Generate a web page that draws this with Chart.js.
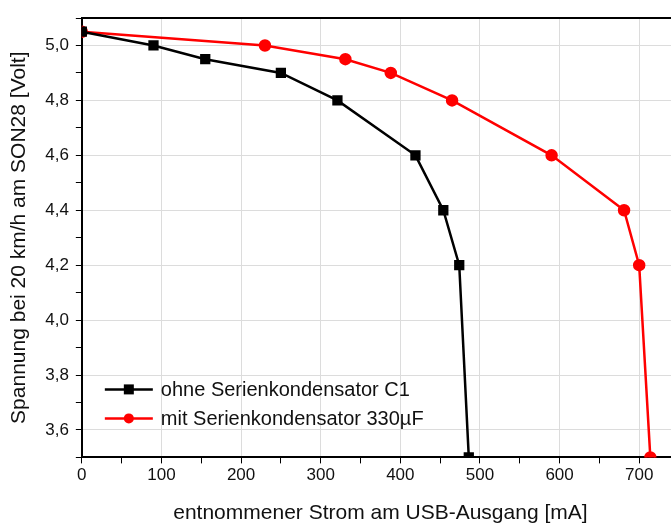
<!DOCTYPE html>
<html>
<head>
<meta charset="utf-8">
<script src="https://cdn.jsdelivr.net/npm/chart.js@4"></script>
<style>
  html, body { margin: 0; padding: 0; background: #fff; overflow: hidden; }
  #wrap { width: 687px; height: 526px; }
</style>
</head>
<body>
<div id="wrap"><canvas id="chart"></canvas></div>
<script>
// Messwerte: Strom in mA, Spannung in Volt
const ohneStrom = [0, 90, 155, 250, 321, 419, 454, 474, 486];
const ohneSpannung = [5.05, 5.0, 4.95, 4.9, 4.8, 4.6, 4.4, 4.2, 3.5];
const mitStrom = [0, 230, 331, 388, 465, 590, 681, 700, 714];
const mitSpannung = [5.05, 5.0, 4.95, 4.9, 4.8, 4.6, 4.4, 4.2, 3.5];
const seriesLabels = ['ohne Serienkondensator C1', 'mit Serienkondensator 330µF'];

const toPoints = (xs, ys) => xs.map((x, i) => ({ x: x, y: ys[i] }));

const FONT = 'Liberation Sans, Arial, sans-serif';

// legend drawn inside the plot, bottom left
const innerLegend = {
  id: 'innerLegend',
  afterDraw(chart) {
    const ctx = chart.ctx;
    const area = chart.chartArea;
    const x0 = area.left + 23;
    let y = area.bottom - 68;
    chart.data.datasets.forEach(ds => {
      ctx.save();
      ctx.strokeStyle = ds.borderColor;
      ctx.lineWidth = 2.5;
      ctx.beginPath();
      ctx.moveTo(x0, y);
      ctx.lineTo(x0 + 48, y);
      ctx.stroke();
      ctx.fillStyle = ds.borderColor;
      if (ds.pointStyle === 'rect') {
        ctx.fillRect(x0 + 19, y - 5, 10, 10);
      } else {
        ctx.beginPath();
        ctx.arc(x0 + 24, y, 5, 0, Math.PI * 2);
        ctx.fill();
      }
      ctx.fillStyle = '#111';
      ctx.font = '20px ' + FONT;
      ctx.textBaseline = 'middle';
      ctx.fillText(ds.label, x0 + 56, y + 1);
      ctx.restore();
      y += 29;
    });
  }
};

new Chart(document.getElementById('chart'), {
  type: 'line',
  data: {
    datasets: [
      {
        label: seriesLabels[0],
        data: toPoints(ohneStrom, ohneSpannung),
        borderColor: '#000000',
        backgroundColor: '#000000',
        borderWidth: 2.5,
        pointStyle: 'rect',
        pointRadius: 5.5,
        pointHoverRadius: 5.5,
        tension: 0
      },
      {
        label: seriesLabels[1],
        data: toPoints(mitStrom, mitSpannung),
        borderColor: '#ff0000',
        backgroundColor: '#ff0000',
        borderWidth: 2.5,
        pointStyle: 'circle',
        pointRadius: 5,
        pointHoverRadius: 5,
        tension: 0
      }
    ]
  },
  options: {
    responsive: true,
    maintainAspectRatio: false,
    animation: false,
    layout: { padding: { top: 10, right: 0, left: 7, bottom: 0 } },
    plugins: {
      legend: { display: false },
      tooltip: { enabled: false }
    },
    scales: {
      x: {
        type: 'linear',
        min: 0,
        max: 750,
        ticks: {
          stepSize: 50,
          color: '#111',
          font: { family: FONT, size: 17 },
          padding: 2,
          maxRotation: 0,
          autoSkip: false,
          callback: v => (v % 100 === 0 ? String(v) : '')
        },
        grid: {
          color: ctx => (ctx.tick && ctx.tick.value % 100 === 0 ? '#dcdcdc' : 'rgba(0,0,0,0)'),
          tickColor: '#000',
          tickLength: 6
        },
        border: { color: '#000', width: 2 },
        title: {
          display: true,
          text: 'entnommener Strom am USB-Ausgang [mA]',
          color: '#111',
          font: { family: FONT, size: 21 },
          padding: { top: 13, bottom: 0 }
        }
      },
      xTop: {
        type: 'linear',
        position: 'top',
        min: 0,
        max: 750,
        ticks: { display: false },
        grid: { display: false },
        border: { color: '#000', width: 2 }
      },
      y: {
        type: 'linear',
        min: 3.5,
        max: 5.1,
        ticks: {
          stepSize: 0.1,
          color: '#111',
          font: { family: FONT, size: 17 },
          padding: 7,
          autoSkip: false,
          callback: v => {
            const n = Math.round(v * 10);
            return n % 2 === 0 ? (n / 10).toFixed(1).replace('.', ',') : '';
          }
        },
        grid: {
          color: ctx => (ctx.tick && Math.round(ctx.tick.value * 10) % 2 === 0 ? '#dcdcdc' : 'rgba(0,0,0,0)'),
          tickColor: '#000',
          tickLength: 6
        },
        border: { color: '#000', width: 2 },
        title: {
          display: true,
          text: 'Spannung bei 20 km/h am SON28 [Volt]',
          color: '#111',
          font: { family: FONT, size: 21 },
          padding: { top: 0, bottom: 6 }
        }
      }
    }
  },
  plugins: [innerLegend]
});
</script>
</body>
</html>
